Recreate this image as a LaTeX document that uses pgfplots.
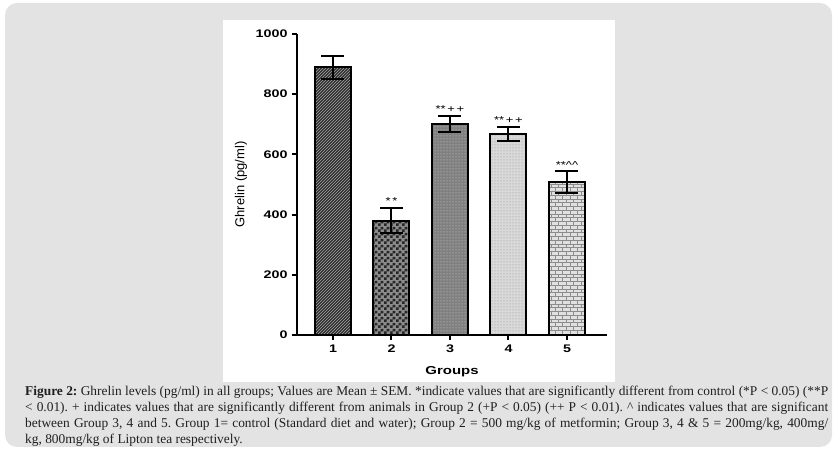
\documentclass[border=0pt]{standalone}
\usepackage{pgfplots}
\pgfplotsset{compat=1.18}
\usepackage{fontspec}
\setmainfont{Liberation Serif}
\newfontfamily\chartfont[FakeStretch=1.3]{Liberation Sans}
\newfontfamily\labelfont{Liberation Sans}
\usetikzlibrary{patterns}

% fill patterns for the five groups
\pgfdeclarepatternformonly{gchecker}{\pgfqpoint{0pt}{0pt}}{\pgfqpoint{6pt}{6pt}}{\pgfqpoint{6pt}{6pt}}{%
  \pgfpathrectangle{\pgfqpoint{0pt}{0pt}}{\pgfqpoint{3pt}{3pt}}%
  \pgfpathrectangle{\pgfqpoint{3pt}{3pt}}{\pgfqpoint{3pt}{3pt}}%
  \pgfusepath{fill}}
\pgfdeclarepatternformonly{gbricks}{\pgfqpoint{-0.5pt}{-0.5pt}}{\pgfqpoint{8pt}{8pt}}{\pgfqpoint{7.5pt}{7.5pt}}{%
  \pgfsetlinewidth{0.8pt}%
  \pgfpathmoveto{\pgfqpoint{0pt}{0pt}}\pgfpathlineto{\pgfqpoint{7.5pt}{0pt}}%
  \pgfpathmoveto{\pgfqpoint{0pt}{3.75pt}}\pgfpathlineto{\pgfqpoint{7.5pt}{3.75pt}}%
  \pgfpathmoveto{\pgfqpoint{0pt}{0pt}}\pgfpathlineto{\pgfqpoint{0pt}{3.75pt}}%
  \pgfpathmoveto{\pgfqpoint{3.75pt}{3.75pt}}\pgfpathlineto{\pgfqpoint{3.75pt}{7.5pt}}%
  \pgfusepath{stroke}}

\definecolor{pagegray}{HTML}{E3E3E3}

\pgfplotsset{
  grpbar/.style={ybar, bar width=36pt, bar shift=0pt, draw=black, line width=2pt,
    error bars/y dir=both, error bars/y explicit,
    error bars/error bar style={line width=2pt, black},
    error bars/error mark options={rotate=90, mark size=11.5pt, line width=2pt, black}},
}

\begin{document}
\begin{tikzpicture}[x=1pt,y=1pt]
  % page and panels
  \fill[white] (0,0) rectangle (839,-454);
  \fill[pagegray, rounded corners=12pt] (5,-3) rectangle (832,-447);
  \fill[white] (223,-20) rectangle (615,-382);

  \begin{axis}[
    scale only axis,
    width=310pt, height=301pt,
    at={(297pt,-335pt)}, anchor=south west,
    xmin=0.385, xmax=5.684,
    ymin=0, ymax=1000,
    axis lines=left,
    axis line style={-, line width=2.5pt, black},
    xtick={1,2,3,4,5},
    ytick={0,200,400,600,800,1000},
    tick align=outside,
    major tick length=5pt,
    tick style={line width=2pt, black},
    /pgf/number format/assume math mode=true,
    /pgf/number format/1000 sep={},
    ticklabel style={font=\chartfont\bfseries\fontsize{11}{13}\selectfont},
    yticklabel style={xshift=-1pt},
    xticklabel style={yshift=-1pt},
    ylabel={Ghrelin (pg/ml)},
    ylabel style={font=\labelfont\fontsize{13}{15}\selectfont, at={(axis description cs:-0.181,0.5)}, anchor=center, rotate=0},
    xlabel={Groups},
    xlabel style={font=\chartfont\bfseries\fontsize{11.5}{13}\selectfont, at={(axis description cs:0.5,-0.123)}, anchor=center},
    clip=false,
  ]
    % group 1: control
    \addplot[grpbar, preaction={fill=black!82}, pattern=north east lines, pattern color=black!35]
      coordinates {(1,890) +- (0,38)};
    % group 2: metformin
    \addplot[grpbar, preaction={fill=black!45}, pattern=gchecker, pattern color=black!85]
      coordinates {(2,380) +- (0,42)};
    % groups 3-5: Lipton tea 200, 400, 800 mg/kg
    \addplot[grpbar, preaction={fill=black!50}, pattern=dots, pattern color=white!85!black]
      coordinates {(3,700) +- (0,27)};
    \addplot[grpbar, preaction={fill=black!15}, pattern=dots, pattern color=black!45]
      coordinates {(4,668) +- (0,24)};
    \addplot[grpbar, preaction={fill=black!12}, pattern=gbricks, pattern color=black!45]
      coordinates {(5,508) +- (0,36)};

    % significance marks
    \begin{scope}[every node/.style={anchor=south, inner sep=0pt, font=\chartfont\fontsize{10}{11}\selectfont}]
      \node at (axis cs:2,422) [yshift=3pt] {*\,*};
      \node at (axis cs:3,727) [yshift=3pt] {**\,+\,+};
      \node at (axis cs:4,692) [yshift=3pt] {**\,+\,+};
      \node at (axis cs:5,544) [yshift=3pt] {**\textasciicircum\textasciicircum};
    \end{scope}
  \end{axis}

  % caption
  \node[anchor=base west, inner sep=0pt, text=black!88] at (25,-396) {\parbox[t]{803pt}{%
    \fontsize{13.4}{15.8}\selectfont\frenchspacing
    \textbf{Figure 2:} Ghrelin levels (pg/ml) in all groups; Values are Mean ± SEM. *indicate values that are significantly different from control (*P < 0.05) (**P\linebreak
    < 0.01). + indicates values that are significantly different from animals in Group 2 (+P < 0.05) (++ P < 0.01). \textasciicircum\ indicates values that are significant\linebreak
    between Group 3, 4 and 5. Group 1= control (Standard diet and water); Group 2 = 500 mg/kg of metformin; Group 3, 4 \& 5 = 200mg/kg, 400mg/\linebreak
    kg, 800mg/kg of Lipton tea respectively.}};
\end{tikzpicture}
\end{document}
